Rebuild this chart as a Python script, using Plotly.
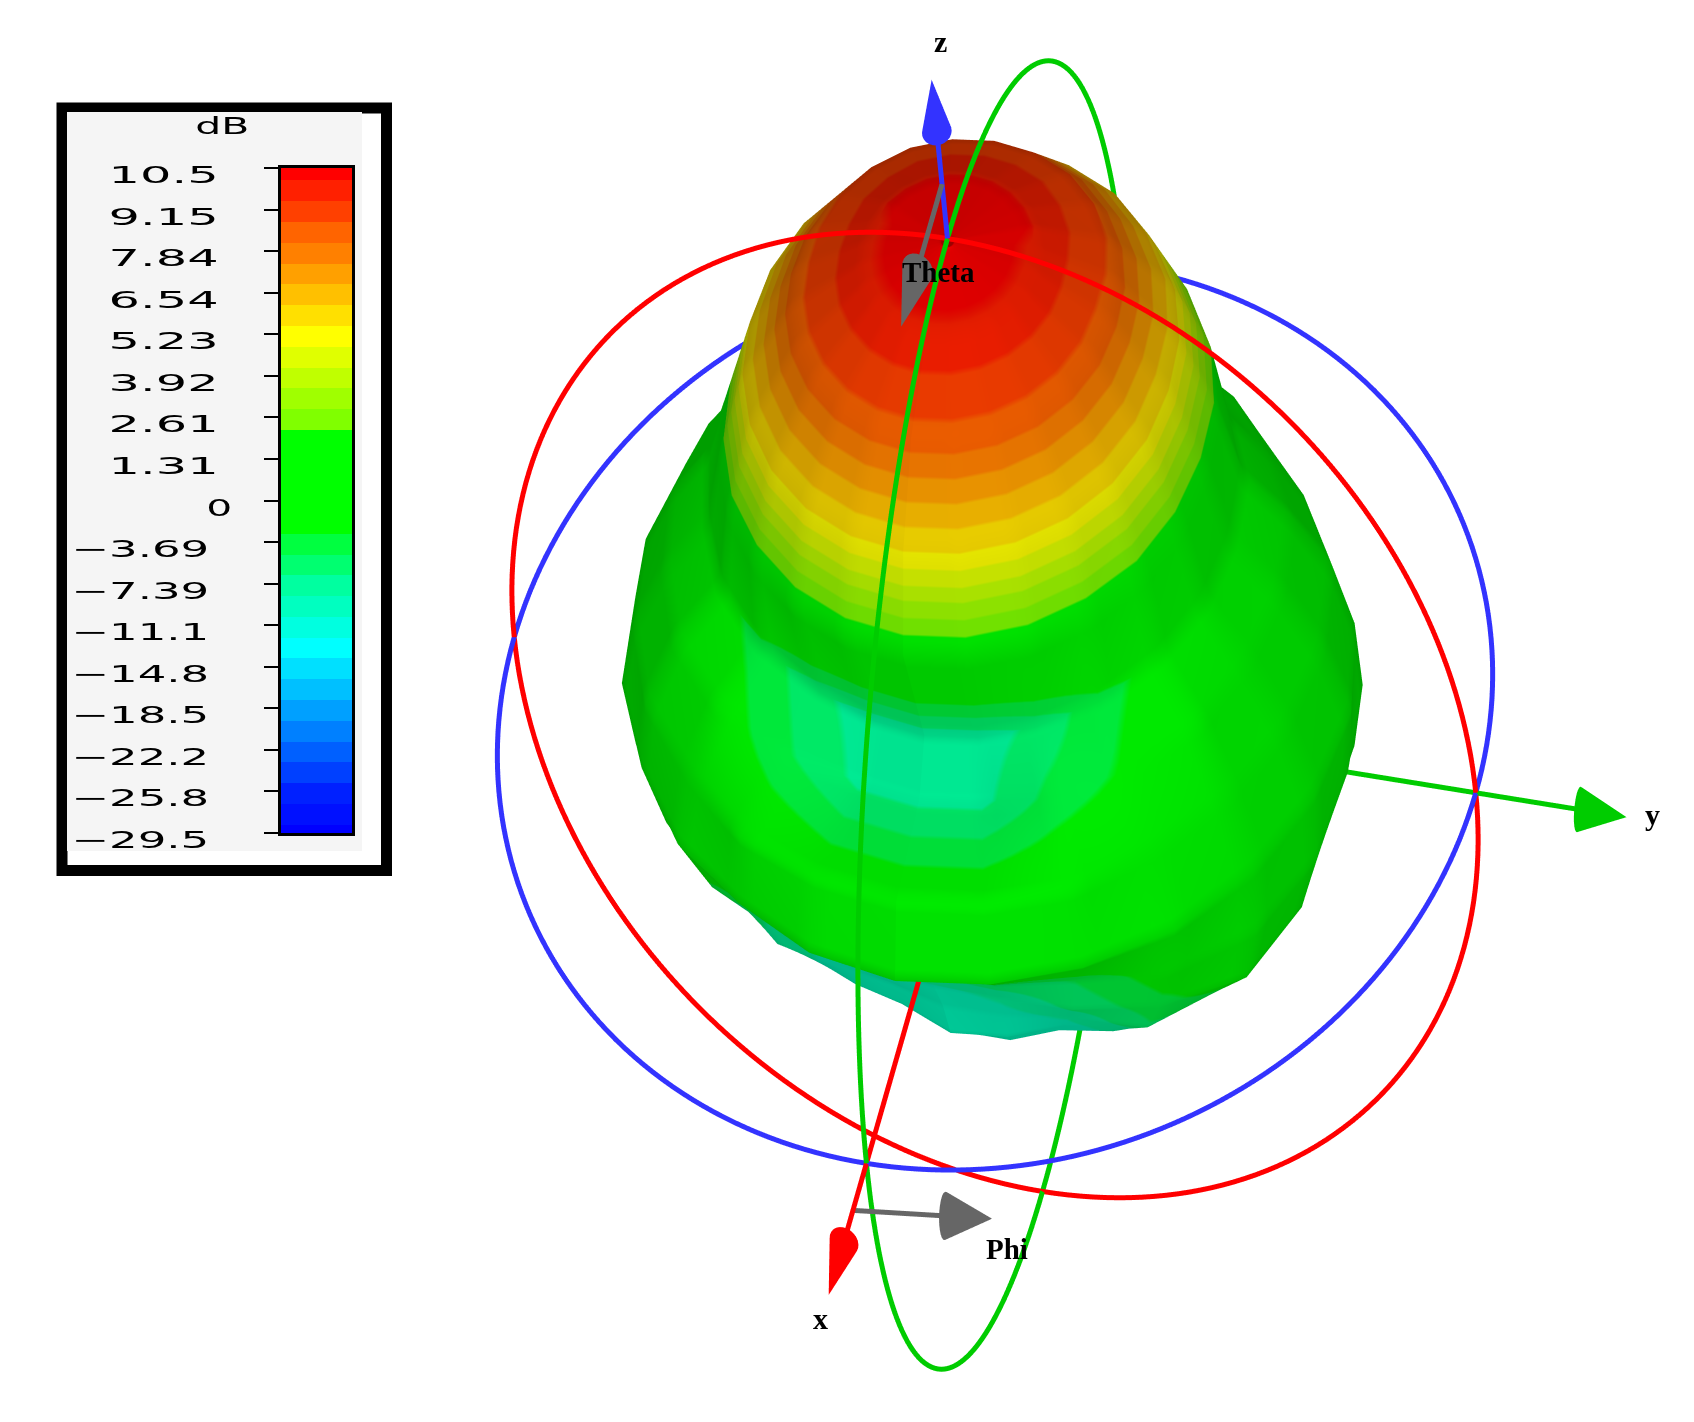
import json
import numpy as np
import plotly.graph_objects as go

W, H = 1694, 1422

# ---------- colour legend ----------
tick_db = [10.5, 9.15, 7.84, 6.54, 5.23, 3.92, 2.61, 1.31, 0, -3.69, -7.39, -11.1, -14.8, -18.5, -22.2, -25.8, -29.5]
tick_text = ["10.5", "9.15", "7.84", "6.54", "5.23", "3.92", "2.61", "1.31", "0",
             "\u22123.69", "\u22127.39", "\u221211.1", "\u221214.8", "\u221218.5", "\u221222.2", "\u221225.8", "\u221229.5"]
band_colors = [
    "#ff0000", "#ff2000", "#ff4000", "#ff6400", "#ff8000", "#ffa000", "#ffc000", "#ffe000", "#ffff00",
    "#e0ff00", "#c0ff00", "#a0ff00", "#80ff00",
    "#00ff00", "#00ff00", "#00ff00", "#00ff00", "#00ff00",
    "#00ff40", "#00ff70", "#00ffa0", "#00ffc0", "#00ffe0", "#00ffff",
    "#00e0ff", "#00c0ff", "#00a0ff", "#0080ff", "#0060ff", "#0040ff", "#0020ff", "#0010ff", "#0000ff",
]

# ---------- radiation pattern, gain in dB, one row per theta ----------
theta_deg = [0, 10, 20, 30, 40, 50, 60, 70, 80, 90, 100, 110, 120, 130, 140, 150, 160, 170, 180]
phi_deg = [0, 15, 30, 45, 60, 75, 90, 105, 120, 135, 150, 165, 180, 195, 210, 225, 240, 255, 270, 285, 300, 315, 330, 345]
gain_t000 = [10.5] * 24
gain_t010 = [10.0, 10.0, 10.0, 10.0, 10.0, 10.0, 10.0, 10.0, 10.1, 10.1, 10.1, 10.1, 10.1, 10.1, 10.1, 10.1, 10.1, 10.0, 10.0, 10.0, 10.0, 10.0, 10.0, 10.0]
gain_t020 = [8.5, 8.5, 8.5, 8.5, 8.5, 8.5, 8.5, 8.6, 8.7, 8.8, 8.9, 8.9, 8.9, 8.9, 8.9, 8.8, 8.7, 8.6, 8.5, 8.5, 8.5, 8.5, 8.5, 8.5]
gain_t030 = [5.5, 5.5, 5.5, 5.5, 5.5, 5.5, 5.5, 5.7, 5.9, 6.0, 6.2, 6.2, 6.2, 6.2, 6.2, 6.0, 5.9, 5.7, 5.5, 5.5, 5.5, 5.5, 5.5, 5.5]
gain_t040 = [1.5, 1.5, 1.5, 1.5, 1.6, 1.6, 1.7, 2.0, 2.3, 2.6, 2.9, 3.0, 3.0, 3.0, 2.9, 2.6, 2.3, 2.0, 1.7, 1.6, 1.6, 1.5, 1.5, 1.5]
gain_t050 = [-7.5, -7.5, -6, -3.5, -2, -1.5, -1.5, -1, -1.5, -2.5, -2.8, -2.5, -2.5, -2.5, -2.8, -2.5, -1.5, -1, -0.5, -1.5, -2, -3.5, -6, -7.5]
gain_t060 = [-7, -7, -4, -2.5, -0.5, -0.5, -0.3, -0.3, -1.5, -2, -2.8, -2.5, -2.5, -2.5, -2.5, -2.5, -1, -0.5, 0, -0.3, -0.3, -1.5, -4.5, -7]
gain_t070 = [-0.5, -0.5, 0, -0.5, 0.3, 0.5, 0.7, 0.5, -1, -2, -2.8, -2.5, -2.5, -2.5, -2.5, -2.5, -1.5, 0, 0.5, 0.5, 0.5, -0.3, 0, -0.5]
gain_t080 = [0.3, 0.3, 0.5, 1, 1.2, 1.3, 1.3, 0.5, -1.5, -2.5, -2.5, -2, -2, -2, -2, -2, -1.5, 0, 0.5, 0.6, 0, 0, -0.5, 0]
gain_t090 = [-6.3, -5.5, -4.5, -1.5, 0.3, 0.5, 0, 0.2, -1, -1.5, -1.5, -1.5, -1.5, -1.5, -1.5, -1.5, -1, -0.5, 0.5, -0.5, -2, -3.1, -5, -5.5]
gain_t100 = [-8.7, -8, -6, -3.5, -1, -1, -1.8, -0.5, -1.5, -2, -2, -2, -2, -2, -2, -2, -2, -1.5, -1, -2, -4, -6, -8, -8.5]
gain_t110 = [-9.5, -9, -8, -5, -4, -3, -3, -3, -3, -3.5, -3.5, -3.5, -3.5, -3.5, -3.5, -3.5, -3.5, -3, -3, -4, -6, -7, -9, -10]
gain_t120 = [-9.1, -9, -9, -7, -6, -5, -4.5, -4.5, -5, -5, -5, -5, -5, -5, -5, -5, -5, -5, -5, -6, -7.5, -8.5, -9.5, -10]
gain_t130 = [-9.9, -9.5, -9.5, -8, -7, -6, -6, -6, -6, -6, -6, -6, -6, -6, -6, -6, -6, -6, -6, -7, -8.5, -9.5, -10, -10.5]
gain_t140 = [-9.9, -10, -10, -9, -8, -7, -7, -7, -7, -7, -7, -7, -7, -7, -7, -7, -7, -7, -7, -8, -9, -10, -10.5, -10.5]
gain_t150 = [-10.7, -10.5, -10, -9.5, -8.5, -8, -7.5, -7.5, -7.5, -7.5, -7.5, -7.5, -7.5, -7.5, -7.5, -7.5, -7.5, -7.5, -7.5, -8, -9, -10, -10.5, -10.5]
gain_t160 = [-9, -9, -9, -8.5, -8.5, -8, -8, -8, -8, -8, -8, -8, -8, -8, -8, -8, -8, -8, -8, -8, -8.5, -8.5, -9, -9]
gain_t170 = [-8.5] * 24
gain_t180 = [-8.5] * 24

gain_rows = [gain_t000, gain_t010, gain_t020, gain_t030, gain_t040, gain_t050, gain_t060, gain_t070, gain_t080,
             gain_t090, gain_t100, gain_t110, gain_t120, gain_t130, gain_t140, gain_t150, gain_t160, gain_t170, gain_t180]

# ---------- pattern geometry (gain -> radius, gain -> legend position) ----------
gain = np.array(gain_rows, dtype=float)
gain = np.hstack([gain, gain[:, :1]])
phi = np.radians(phi_deg + [360])
th = np.radians(theta_deg)
TH, PH = np.meshgrid(th, phi, indexing="ij")
radius = (gain - tick_db[-1]) / (tick_db[0] - tick_db[-1])
sx = radius * np.sin(TH) * np.cos(PH)
sy = radius * np.sin(TH) * np.sin(PH)
sz = radius * np.cos(TH)
level = np.interp(gain, tick_db[::-1], list(range(16, -1, -1)))

# band edges in legend units: each tick interval holds two bands
edges = [0.0] + [0.3 + 0.5 * k for k in range(32)] + [16.0]
colorscale = []
for i, c in enumerate(band_colors):
    colorscale.append([edges[i] / 16, c])
    colorscale.append([edges[i + 1] / 16, c])

fig = go.Figure()
fig.add_trace(go.Surface(
    x=sx, y=sy, z=sz, surfacecolor=level, cmin=0, cmax=16, colorscale=colorscale, showscale=False,
    hoverinfo="skip",
    lighting=dict(ambient=0.62, diffuse=0.30, specular=0.0, roughness=1.0, fresnel=0.0),
    lightposition=dict(x=-5500, y=-500, z=-8300),
))

# ---------- rings and axes ----------
RED, GREEN, BLUE, GREY = "#ff0000", "#00cc00", "#3333ff", "#666666"
LINE_W = 10
t = np.linspace(0, 2 * np.pi, 241)
ring = 1.005
c, s, o = ring * np.cos(t), ring * np.sin(t), np.zeros_like(t)
for rx, ry, rz, col in [(o, c, s, RED), (c, o, s, GREEN), (c, s, o, BLUE)]:
    fig.add_trace(go.Scatter3d(x=rx, y=ry, z=rz, mode="lines", line=dict(color=col, width=LINE_W), hoverinfo="skip", showlegend=False))


def arrow(start, end, col, head_len, head_rad, width):
    start, end = np.array(start, float), np.array(end, float)
    d = end - start
    d = d / np.linalg.norm(d)
    base = end - d * head_len
    fig.add_trace(go.Scatter3d(x=[start[0], base[0]], y=[start[1], base[1]], z=[start[2], base[2]], mode="lines",
                               line=dict(color=col, width=width), hoverinfo="skip", showlegend=False))
    n1 = np.cross(d, [0.3, 0.5, 0.8])
    n1 = n1 / np.linalg.norm(n1)
    n2 = np.cross(d, n1)
    a = np.linspace(0, 2 * np.pi, 25)[:-1]
    ring_pts = base + head_rad * (np.outer(np.cos(a), n1) + np.outer(np.sin(a), n2))
    pts = np.vstack([ring_pts, end, base])
    m = len(a)
    I, J, K = [], [], []
    for q in range(m):
        I += [q, q]
        J += [(q + 1) % m, (q + 1) % m]
        K += [m, m + 1]
    fig.add_trace(go.Mesh3d(x=pts[:, 0], y=pts[:, 1], z=pts[:, 2], i=I, j=J, k=K, color=col, hoverinfo="skip",
                            flatshading=True, lighting=dict(ambient=1, diffuse=0, specular=0, fresnel=0)))


arrow([0, 0, 0], [1.3, 0, 0], RED, 0.12, 0.03, LINE_W)
arrow([0, 0, 0], [0, 1.32, 0], GREEN, 0.10, 0.035, LINE_W)
arrow([0, 0, 0], [0, 0, 1.34], BLUE, 0.11, 0.03, LINE_W)
arrow([0, 0, 1.12], [0.32, 0, 1.12], GREY, 0.13, 0.032, LINE_W)
arrow([1.1, 0, -0.01], [1.1, 0.29, 0.02], GREY, 0.10, 0.037, LINE_W)

# ---------- legend heatmap ----------
band_mid = [(edges[i] + edges[i + 1]) / 2 for i in range(len(band_colors))]
fig.add_trace(go.Heatmap(x=[0, 1], y=edges, z=[[m] for m in band_mid], zmin=0, zmax=16, colorscale=colorscale,
                         showscale=False, hoverinfo="skip", xaxis="x", yaxis="y"))


def px(v):
    return v / W


def py(v):
    return 1 - v / H


shapes = [
    dict(type="rect", xref="paper", yref="paper", x0=px(62), x1=px(386.5), y0=py(108), y1=py(870.5),
         line=dict(color="black", width=11), fillcolor="white", layer="below"),
    dict(type="rect", xref="paper", yref="paper", x0=px(67), x1=px(362), y0=py(112), y1=py(851),
         line=dict(width=0), fillcolor="#f5f5f5", layer="below"),
]

CHAR_W = 28
LEGEND_FONT = dict(family="DejaVu Sans", size=23, color="black")
text_widths = {}
annotations = []
for i, lab in enumerate(tick_text):
    right = 233 if lab == "0" else (218 if not lab.startswith("\u2212") else 209)
    width = CHAR_W * len(lab) - 2
    text_widths[lab] = width
    annotations.append(dict(text=lab, xref="paper", yref="y", x=px(right - width / 2), y=i, yshift=-7, showarrow=False,
                            xanchor="center", yanchor="middle", font=LEGEND_FONT))
text_widths["dB"] = 54
annotations.append(dict(text="dB", xref="paper", yref="paper", x=px(222), y=py(126), showarrow=False, xanchor="center",
                        yanchor="middle", font=LEGEND_FONT))
for lab, xp, yp, size in [("z", 940, 42, 30), ("x", 820, 1318, 30), ("y", 1652, 815, 30),
                          ("Theta", 938, 272, 29), ("Phi", 1007, 1249, 29)]:
    annotations.append(dict(text=lab, xref="paper", yref="paper", x=px(xp), y=py(yp), showarrow=False, xanchor="center",
                            yanchor="middle", font=dict(family="Liberation Serif", size=size, color="black", weight="bold")))

# ---------- view: orthographic camera and box aspect solved from the axes' on-screen directions ----------
view_a = np.array([-119.0, 445.0, -44.0])   # screen right of unit x, y, z
view_b = np.array([-415.0, -72.0, 441.0])   # screen up of unit x, y, z
M = np.array([[view_a[0] * view_b[0], view_a[2] * view_b[2]],
              [view_a[0] ** 2 - view_b[0] ** 2, view_a[2] ** 2 - view_b[2] ** 2]])
R = -np.array([view_a[1] * view_b[1], view_a[1] ** 2 - view_b[1] ** 2])
w1, w3 = np.linalg.solve(M, R)
aspect = 1 / np.sqrt(np.array([w1, 1.0, w3]))
scale_px = np.sqrt(np.sum((view_a / aspect) ** 2))
right_dir = view_a / aspect / scale_px
up_dir = view_b / aspect / scale_px
eye_dir = np.cross(right_dir, up_dir)

EYE_DIST = 2.0
AXIS_R = 1.5
ASPECT_K = 0.6 * 445 / 130 * 1.015 * scale_px / 457
eye = eye_dir * EYE_DIST
hidden = dict(visible=False, range=[-AXIS_R, AXIS_R], autorange=False)
fig.update_layout(
    width=W, height=H, margin=dict(l=0, r=0, t=0, b=0), paper_bgcolor="white", plot_bgcolor="white", showlegend=False,
    xaxis=dict(domain=[px(281), px(352)], range=[0, 1], showticklabels=False, ticks="", showline=True, mirror=True,
               linecolor="black", linewidth=3, showgrid=False, zeroline=False, fixedrange=True),
    yaxis=dict(domain=[py(833), py(168)], range=[16, 0], tickmode="array", tickvals=list(range(17)), showticklabels=False,
               ticks="outside", ticklen=14, tickwidth=2, tickcolor="black", showline=True, mirror=True, linecolor="black",
               linewidth=3, showgrid=False, zeroline=False, fixedrange=True),
    scene=dict(
        domain=dict(x=[px(296), 1], y=[0, py(8)]),
        xaxis=hidden, yaxis=hidden, zaxis=hidden, bgcolor="rgba(0,0,0,0)",
        aspectmode="manual",
        aspectratio=dict(x=aspect[0] * ASPECT_K, y=aspect[1] * ASPECT_K, z=aspect[2] * ASPECT_K),
        camera=dict(eye=dict(x=eye[0], y=eye[1], z=eye[2]), up=dict(x=up_dir[0], y=up_dir[1], z=up_dir[2]),
                    center=dict(x=0, y=0, z=0), projection=dict(type="orthographic")),
    ),
    shapes=shapes, annotations=annotations,
)

post = """
document.body.style.margin = '0';
var w = %s;
document.querySelectorAll('.annotation-text').forEach(function(t){
  var k = t.textContent;
  if (w[k]) { t.setAttribute('textLength', w[k]); t.setAttribute('lengthAdjust', 'spacingAndGlyphs'); }
});
""" % json.dumps(text_widths)
fig.write_html("out.html", post_script=post, config={"displayModeBar": False})
